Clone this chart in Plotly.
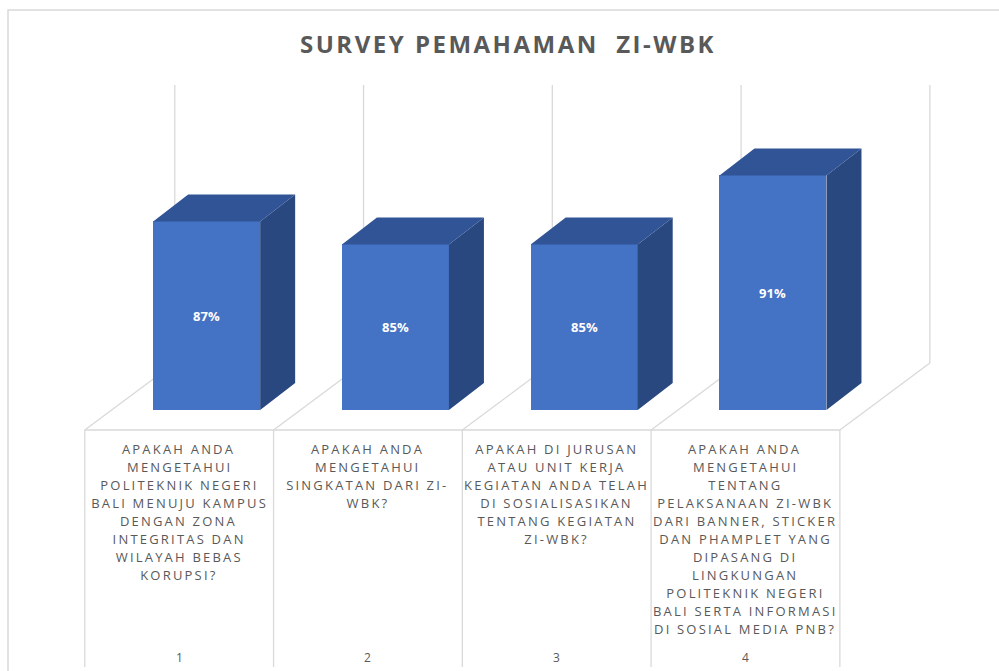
import plotly.graph_objects as go

# ---------------- data ----------------
categories = ["1", "2", "3", "4"]
question_lines = [
    ["APAKAH ANDA", "MENGETAHUI", "POLITEKNIK NEGERI", "BALI MENUJU KAMPUS",
     "DENGAN ZONA", "INTEGRITAS DAN", "WILAYAH BEBAS", "KORUPSI?"],
    ["APAKAH ANDA", "MENGETAHUI", "SINGKATAN DARI ZI-", "WBK?"],
    ["APAKAH DI JURUSAN", "ATAU UNIT KERJA", "KEGIATAN ANDA TELAH",
     "DI SOSIALISASIKAN", "TENTANG KEGIATAN", "ZI-WBK?"],
    ["APAKAH ANDA", "MENGETAHUI", "TENTANG", "PELAKSANAAN ZI-WBK",
     "DARI BANNER, STICKER", "DAN PHAMPLET YANG", "DIPASANG DI", "LINGKUNGAN",
     "POLITEKNIK NEGERI", "BALI SERTA INFORMASI", "DI SOSIAL MEDIA PNB?"],
]
values = [87, 85, 85, 91]
value_labels = [f"{v}%" for v in values]
title_text = "SURVEY PEMAHAMAN  ZI-WBK"

# ---------------- geometry / style ----------------
W, H = 999, 671
ML, MR, MT, MB = 81, 27, 80, 4
XR = [-0.52, 4.2]
PW = W - ML - MR
PH = H - MT - MB
PXX = PW / (XR[1] - XR[0])          # px per category unit
PXY = 11.5                           # px per percent
Y0 = 48.25
YR = [Y0, Y0 + PH / PXY]


def vy(px):   # pixel row -> y value
    return Y0 + (H - MB - px) / PXY


def dxu(px):  # horizontal px -> x units
    return px / PXX


def dyu(px):  # vertical px -> y units
    return px / PXY


FLOOR_V = vy(430)
WALL_TOP = vy(85)
FDX, FDY = dxu(90), dyu(67)          # floor depth
BDX, BDY = dxu(35), dyu(27)          # bar depth
BOX, BOY = dxu(27.5), dyu(20)        # bar front-plane offset
BASE = FLOOR_V + BOY
BAR_W = dxu(107)
BAR_OFF = BOX - BAR_W / 2

GRID = "#d9d9d9"
TXT = "#595959"
FRONT = "#4472C4"
SIDE = "#294880"
TOP = "#305496"

idx = list(range(len(categories)))

fig = go.Figure()

# front faces of the bars
fig.add_trace(go.Bar(
    x=idx, y=[v - BASE for v in values], base=BASE,
    width=BAR_W, offset=BAR_OFF,
    marker=dict(color=FRONT, line=dict(width=0)),
    text=value_labels, textposition="inside", insidetextanchor="middle",
    textfont=dict(color="white", size=13, family="Open Sans", weight="bold"),
    hoverinfo="skip", cliponaxis=False,
))

# side and top faces computed from the same data
side_x, side_y, top_x, top_y = [], [], [], []
for i, v in zip(idx, values):
    xl = i + BAR_OFF
    xr = xl + BAR_W
    side_x += [xr, xr + BDX, xr + BDX, xr, xr, None]
    side_y += [BASE, BASE + BDY, v + BDY, v, BASE, None]
    top_x += [xl, xl + BDX, xr + BDX, xr, xl, None]
    top_y += [v, v + BDY, v + BDY, v, v, None]
fig.add_trace(go.Scatter(x=side_x, y=side_y, mode="lines", fill="toself",
                         fillcolor=SIDE, line=dict(width=0, color=SIDE),
                         hoverinfo="skip"))
fig.add_trace(go.Scatter(x=top_x, y=top_y, mode="lines", fill="toself",
                         fillcolor=TOP, line=dict(width=0, color=TOP),
                         hoverinfo="skip"))

shapes = []
line_style = dict(color=GRID, width=1.3)
n = len(categories)
for k in range(n + 1):
    x = k - 0.5
    # floor depth lines
    shapes.append(dict(type="line", xref="x", yref="y", layer="below",
                       x0=x, y0=FLOOR_V, x1=x + FDX, y1=FLOOR_V + FDY, line=line_style))
    # back wall gridlines
    shapes.append(dict(type="line", xref="x", yref="y", layer="below",
                       x0=x + FDX, y0=FLOOR_V + FDY, x1=x + FDX, y1=WALL_TOP, line=line_style))
    # category table dividers
    shapes.append(dict(type="line", xref="x", yref="y", layer="below",
                       x0=x, y0=FLOOR_V, x1=x, y1=YR[0], line=line_style))
# table top line
shapes.append(dict(type="line", xref="x", yref="y", layer="below",
                   x0=-0.5, y0=FLOOR_V, x1=n - 0.5, y1=FLOOR_V, line=line_style))
# chart border
shapes.append(dict(type="rect", xref="paper", yref="paper", layer="below",
                   x0=(8 - ML) / PW, x1=(1010 - ML) / PW,
                   y0=(H - MB - 10) / PH, y1=(H - MB - 676) / PH,
                   line=dict(color=GRID, width=1.5), fillcolor="rgba(0,0,0,0)"))

annotations = []
for i, lines in zip(idx, question_lines):
    for j, ln in enumerate(lines):
        annotations.append(dict(x=i, y=vy(449 + 18 * j), xref="x", yref="y",
                                text=ln, showarrow=False, xanchor="center", yanchor="middle",
                                font=dict(family="Open Sans", size=13, color=TXT)))
    annotations.append(dict(x=i, y=vy(657), xref="x", yref="y",
                            text=categories[i], showarrow=False,
                            xanchor="center", yanchor="middle",
                            font=dict(family="Open Sans", size=12, color=TXT)))

fig.update_layout(
    width=W, height=H,
    margin=dict(l=ML, r=MR, t=MT, b=MB, pad=0),
    paper_bgcolor="white", plot_bgcolor="white",
    showlegend=False, hovermode=False,
    title=dict(text=title_text, x=508 / W, xanchor="center", y=1 - 45 / H, yanchor="middle",
               font=dict(family="Open Sans", size=24, color=TXT, weight="bold")),
    xaxis=dict(range=XR, visible=False, fixedrange=True),
    yaxis=dict(range=YR, visible=False, fixedrange=True),
    shapes=shapes, annotations=annotations,
    bargap=0,
)

post = """
document.body.style.margin = '0';
var gd = document.getElementById('{plot_id}');
gd.querySelectorAll('.annotation-text').forEach(function(t){
  if (t.textContent.length > 2) { t.style.letterSpacing = '2.2px'; }
});
gd.querySelectorAll('.gtitle').forEach(function(t){ t.style.letterSpacing = '2.5px'; });
"""

fig.write_html("out.html", config={"displayModeBar": False}, post_script=post)
